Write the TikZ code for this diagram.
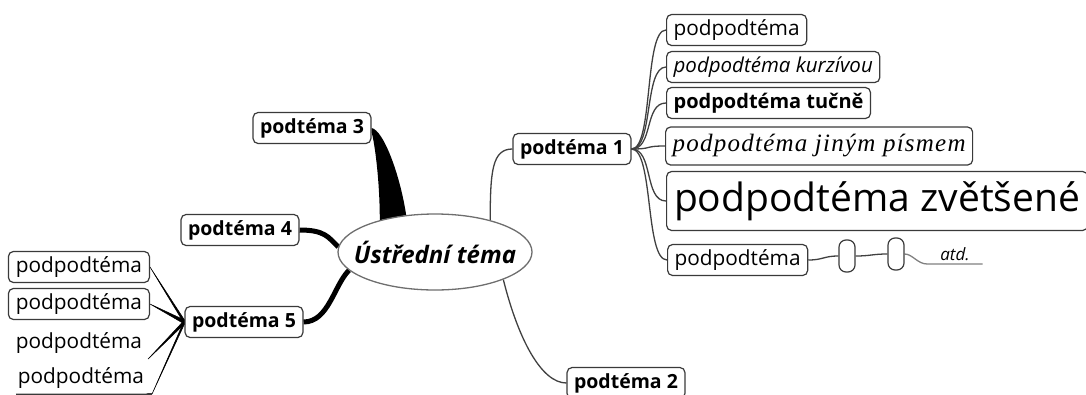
\documentclass[tikz,border=0pt]{standalone}
\usepackage{fontspec}
\setmainfont{Open Sans}
\newfontfamily\handfont[LetterSpace=5]{Liberation Serif}
\usetikzlibrary{shapes.geometric,backgrounds}
\definecolor{boxgray}{HTML}{3A3A3A}
\definecolor{wiregray}{HTML}{404040}
\definecolor{ovalgray}{HTML}{6E6E6E}

\begin{document}
\begin{tikzpicture}[x=1pt,y=1pt]
\tikzstyle{every node}+=[inner sep=0pt]
\tikzstyle{topic}=[draw=boxgray, line width=1.2pt, rounded corners=5pt, fill=white,
  minimum height=31pt, inner xsep=7pt, font=\fontsize{19.5}{23}\selectfont\bfseries]
\tikzstyle{leaf}=[draw=boxgray, line width=1.2pt, rounded corners=5pt, fill=white,
  minimum height=31pt, inner xsep=7pt, font=\fontsize{20.8}{24}\selectfont]
\tikzstyle{knob}=[draw=boxgray, line width=1.2pt, rounded corners=7pt, fill=white,
  minimum width=16pt, minimum height=32pt]
\tikzstyle{wire}=[wiregray, line width=1.3pt]
\tikzstyle{heavy}=[black, line width=5pt]
\useasboundingbox (0,0) rectangle (1086,-394);

% main topic (text box kept at zero width so the oval keeps its size)
\node[ellipse, draw=ovalgray, line width=1.3pt, fill=white, minimum width=194pt,
  minimum height=76pt, font=\fontsize{24}{28}\selectfont\bfseries\itshape]
  (ctr) at (435,-252) {\makebox[0pt]{Ústřední téma}};

% subtopics
\node[topic] (t1) at (572,-149) {podtéma 1};
\node[topic] (t2) at (626,-383) {podtéma 2};
\node[topic] (t3) at (312,-128) {podtéma 3};
\node[topic] (t4) at (240,-230) {podtéma 4};
\node[topic] (t5) at (244,-322) {podtéma 5};

% children of podtema 1
\node[leaf, anchor=west] (c1) at (666,-30) {podpodtéma};
\node[leaf, anchor=west, font=\fontsize{20.5}{24}\selectfont\itshape] (c2) at (666,-67) {podpodtéma kurzívou};
\node[leaf, anchor=west, font=\fontsize{20}{24}\selectfont\bfseries] (c3) at (666,-103) {podpodtéma tučně};
\node[leaf, anchor=west, minimum height=38pt, font=\fontsize{25}{29}\handfont\itshape] (c4) at (665,-146) {podpodtéma jiným písmem};
\node[leaf, anchor=west, minimum height=59pt, minimum width=421pt, font=\fontsize{39}{45}\selectfont] (c5) at (666,-201) {podpodtéma zvětšené};
\node[leaf, anchor=west] (c6) at (667,-260) {podpodtéma};
\node[knob] (k1) at (847,-256) {};
\node[knob] (k2) at (896,-254) {};
\node[inner ysep=3pt, minimum width=55pt, anchor=south,
  font=\fontsize{17}{20}\selectfont\itshape] (etc) at (955,-264) {atd.};

% children of podtema 5
\node[leaf, anchor=east, minimum width=141pt] (l1) at (150,-267) {podpodtéma};
\node[leaf, anchor=east, minimum width=141pt] (l2) at (150,-304) {podpodtéma};
\node[leaf, anchor=east, minimum width=141pt, draw=none] (l3) at (150,-343) {podpodtéma};
\node[leaf, anchor=east, minimum width=141pt, draw=none] (l4) at (152,-378) {podpodtéma};

\begin{pgfonlayer}{background}
% main topic to subtopics
\fill[black] (t3.east) .. controls +(12,-2) and +(-6,40) .. (ctr.128)
  -- (ctr.150) .. controls +(0,40) and +(3,-10) .. ([yshift=-4pt]t3.east) -- cycle;
\draw[heavy] (t4.east) .. controls +(25,0) and +(-10,10) .. (ctr.177);
\draw[heavy] (ctr.192) .. controls +(-15,-15) and +(25,0) .. (t5.east);
\draw[wire] (ctr.30) .. controls +(0,50) and +(-20,0) .. (t1.west);
\draw[wire] (ctr.-22) .. controls +(15,-60) and +(-25,0) .. (t2.west);

% fan to the right
\foreach \c in {c1,c2,c3,c4,c5,c6}
  \draw[wire] (t1.east) .. controls +(22,0) and +(-22,0) .. (\c.west);
\draw[wire] (c6.east) .. controls +(15,0) and +(-15,0) .. (k1.west);
\draw[wire] (k1.east) .. controls +(15,0) and +(-15,0) .. (k2.west);
\draw[gray, line width=1.3pt] (k2.east) .. controls +(8,0) and +(-10,0) .. (etc.south west)
  -- (etc.south east);

% tapered links to the left
\filldraw[black, line width=0.5pt] (l1.east) -- ([yshift=2pt]t5.west) -- ([yshift=-2pt]t5.west) -- cycle;
\filldraw[black, line width=0.5pt] (l2.east) -- ([yshift=2pt]t5.west) -- ([yshift=-2pt]t5.west) -- cycle;
\filldraw[black, line width=0.5pt] ([xshift=-2pt]l3.south east) -- ([yshift=2pt]t5.west) -- ([yshift=-2pt]t5.west) -- cycle;
\draw[boxgray, line width=1.3pt] ([xshift=6pt]l4.south west) -- (l4.south east);
\filldraw[black, line width=0.5pt] (l4.south east) -- ([yshift=2pt]t5.west) -- ([yshift=-2pt]t5.west) -- cycle;
\end{pgfonlayer}
\end{tikzpicture}
\end{document}
